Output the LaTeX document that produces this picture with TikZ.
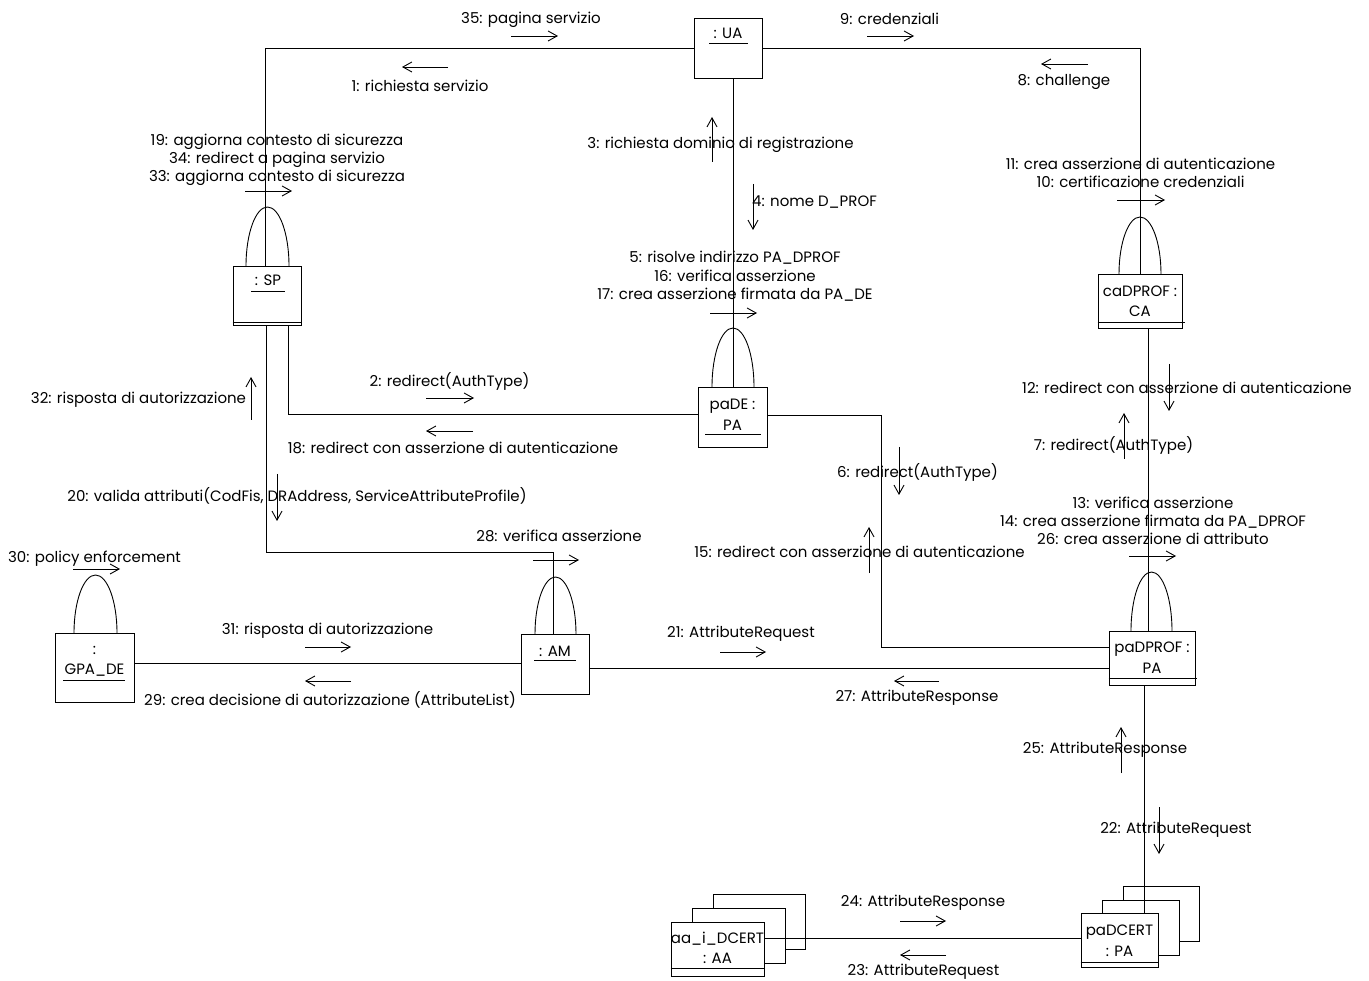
\documentclass[tikz,border=0pt]{standalone}
\usepackage{fontspec}
\setmainfont{Poppins}
\usetikzlibrary{arrows.meta}
\begin{document}
\begin{tikzpicture}[x=1pt,y=-1pt,
  conn/.style={line width=0.9pt},
  msg/.style={line width=0.9pt,-{Straight Barb[length=9pt,width=10pt]}},
  lbl/.style={inner sep=0pt,font=\fontsize{15}{18.3}\selectfont,align=center},
  oname/.style={inner sep=0pt,font=\fontsize{15}{20.5}\selectfont,align=center},
  obj/.style={draw,line width=0.9pt,fill=white,inner sep=0pt}]
\useasboundingbox (0,0) rectangle (1369,981);

% ---- objects (stacked copies first) ----
\node[obj,minimum width=76pt,minimum height=55pt] (PCb2) at (1161,913.5) {};
\node[obj,minimum width=77pt,minimum height=55pt] (PCb1) at (1140.5,927.5) {};
\node[obj,minimum width=92pt,minimum height=55pt] (AAb2) at (759,921.5) {};
\node[obj,minimum width=93pt,minimum height=55pt] (AAb1) at (738.5,935.5) {};

% ---- links ----
\draw[conn] (694,48) -- (265,48) -- (265,266);
\draw[conn] (762,48) -- (1140,48) -- (1140,274);
\draw[conn] (733,78) -- (733,387);
\draw[conn] (288,325) |- (698,414);
\draw[conn] (266,325) |- (553,552) -- (553,634);
\draw[conn] (767,415) -| (881,647) -- (1109,647);
\draw[conn] (1148,328) -- (1148,631);
\draw[conn] (1144,685) -- (1144,913);
\draw[conn] (134,663) -- (521,663);
\draw[conn] (589,668) -- (1109,668);
\draw[conn] (764,938) -- (1081,938);

% ---- object boxes ----
\node[obj,minimum width=68pt,minimum height=60pt] (UA) at (728,48) {};
\node[obj,minimum width=68pt,minimum height=59pt] (SP) at (267,295.5) {};
\node[obj,minimum width=69pt,minimum height=60pt] (PADE) at (732.5,417) {};
\node[obj,minimum width=84pt,minimum height=54pt] (CA) at (1140,301) {};
\node[obj,minimum width=68pt,minimum height=60pt] (AM) at (555,664) {};
\node[obj,minimum width=79pt,minimum height=69pt] (GPA) at (94.5,667.5) {};
\node[obj,minimum width=86pt,minimum height=54pt] (PADPROF) at (1152,658) {};
\node[obj,minimum width=77pt,minimum height=54pt] (PADCERT) at (1119.5,940) {};
\node[obj,minimum width=93pt,minimum height=54pt] (AA) at (717.5,949) {};

% compartments
\draw[conn] (SP.west |- 0,322.5) -- (SP.east |- 0,322.5);
\draw[conn] (CA.west |- 0,322) -- (1185,322);
\draw[conn] (PADPROF.west |- 0,678) -- (1197,678);
\draw[conn] (PADCERT.west |- 0,962) -- (PADCERT.east |- 0,962);
\draw[conn] (AA.west |- 0,968) -- (AA.east |- 0,968);

% object names
\node[oname] (nUA) at (728,33) {: UA};
\draw[conn] (709,43) -- (748,43);
\node[oname] (nSP) at (268,280) {: SP};
\draw[conn] (251,291) -- (285,291);
\node[oname] (nPADE) at (732.5,415) {paDE :\\PA};
\draw[conn] (705,434) -- (761,434);
\node[oname] (nCA) at (1140,301.5) {caDPROF :\\CA};
\node[oname] (nAM) at (555,651) {: AM};
\draw[conn] (534,660) -- (576,660);
\node[oname] (nGPA) at (94.5,661.5) {:\\GPA\_DE};
\draw[conn] (63,680) -- (125,680);
\node[oname] (nPADPROF) at (1152,657.5) {paDPROF :\\PA};
\node[oname] (nPADCERT) at (1119.5,940.5) {paDCERT\\: PA};
\node[oname] (nAA) at (717.5,948) {aa\_i\_DCERT\\: AA};

% ---- self links ----
\draw[conn] (289,266) arc[start angle=0,end angle=180,x radius=21.5pt,y radius=59pt];
\draw[conn] (576,634) arc[start angle=0,end angle=180,x radius=20.5pt,y radius=57pt];
\draw[conn] (117,633) arc[start angle=0,end angle=180,x radius=21.5pt,y radius=58pt];
\draw[conn] (754,387) arc[start angle=0,end angle=180,x radius=21pt,y radius=59pt];
\draw[conn] (1161,274) arc[start angle=0,end angle=180,x radius=21pt,y radius=57pt];
\draw[conn] (1172,631) arc[start angle=0,end angle=180,x radius=20.5pt,y radius=59pt];

% ---- messages ----
\node[lbl] (m35) at (531,20) {35: pagina servizio};
\draw[msg] (511,36) -- (558,36);
\node[lbl] (m1) at (420,86) {1: richiesta servizio};
\draw[msg] (448,67) -- (402,67);
\node[lbl] (m9) at (889.5,19) {9: credenziali};
\draw[msg] (867,36) -- (914,36);
\node[lbl] (m8) at (1064,82) {8: challenge};
\draw[msg] (1088,64) -- (1041,64);
\node[lbl] (m3) at (720.5,145) {3: richiesta dominio di registrazione};
\draw[msg] (712,162) -- (712,117);
\node[lbl,anchor=west] (m4) at (752,202) {4: nome D\_PROF};
\draw[msg] (753,184) -- (753,230);
\node[lbl] (m5) at (735,276.5) {5: risolve indirizzo PA\_DPROF\\16: verifica asserzione\\17: crea asserzione firmata da PA\_DE};
\draw[msg] (710,313) -- (757,313);
\node[lbl] (m19) at (277,160) {19: aggiorna contesto di sicurezza\\34: redirect a pagina servizio\\33: aggiorna contesto di sicurezza};
\draw[msg] (245,191) -- (292,191);
\node[lbl] (m11) at (1140.5,173) {11: crea asserzione di autenticazione\\10: certificazione credenziali};
\draw[msg] (1117,200) -- (1165,200);
\node[lbl] (m2) at (449.5,381) {2: redirect(AuthType)};
\draw[msg] (426,398) -- (474,398);
\node[lbl] (m18) at (453,448) {18: redirect con asserzione di autenticazione};
\draw[msg] (473,431) -- (426,431);
\node[lbl] (m32) at (138.5,400) {32: risposta di autorizzazione};
\draw[msg] (251,420) -- (251,377);
\node[lbl] (m20) at (297,496) {20: valida attributi(CodFis, DRAddress, ServiceAttributeProfile)};
\draw[msg] (277,474) -- (277,521);
\node[lbl] (m28) at (559,536) {28: verifica asserzione};
\draw[msg] (533,560) -- (579,560);
\node[lbl] (m30) at (94.5,559) {30: policy enforcement};
\draw[msg] (73,569) -- (120,569);
\node[lbl] (m31) at (327.5,631) {31: risposta di autorizzazione};
\draw[msg] (305,647) -- (351,647);
\node[lbl] (m29) at (330,700) {29: crea decisione di autorizzazione (AttributeList)};
\draw[msg] (351,681) -- (305,681);
\node[lbl] (m21) at (741,634) {21: AttributeRequest};
\draw[msg] (720,652) -- (766,652);
\node[lbl] (m27) at (917,698) {27: AttributeResponse};
\draw[msg] (939,681) -- (894,681);
\node[lbl] (m6) at (917.5,472) {6: redirect(AuthType)};
\draw[msg] (899,447) -- (899,495);
\node[lbl] (m15) at (859.5,552) {15: redirect con asserzione di autenticazione};
\draw[msg] (869,573) -- (869,527);
\node[lbl] (m12) at (1187,388) {12: redirect con asserzione di autenticazione};
\draw[msg] (1169,364) -- (1169,411);
\node[lbl] (m7) at (1113.5,445) {7: redirect(AuthType)};
\draw[msg] (1124,459) -- (1124,413);
\node[lbl] (m13) at (1153,521) {13: verifica asserzione\\14: crea asserzione firmata da PA\_DPROF\\26: crea asserzione di attributo};
\draw[msg] (1129,556) -- (1176,556);
\node[lbl] (m25) at (1105,750) {25: AttributeResponse};
\draw[msg] (1121,773) -- (1121,727);
\node[lbl] (m22) at (1176,830) {22: AttributeRequest};
\draw[msg] (1159,807) -- (1159,854);
\node[lbl] (m24) at (923,903) {24: AttributeResponse};
\draw[msg] (900,921) -- (946,921);
\node[lbl] (m23) at (923.5,972) {23: AttributeRequest};
\draw[msg] (946,955) -- (900,955);
\end{tikzpicture}
\end{document}
